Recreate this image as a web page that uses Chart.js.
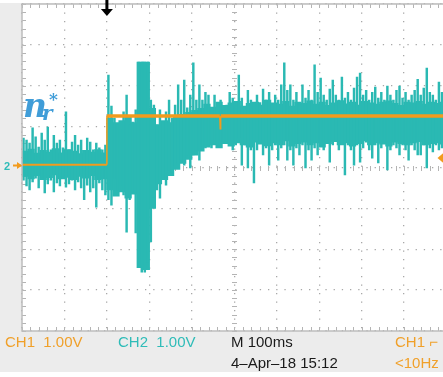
<!DOCTYPE html>
<html>
<head>
<meta charset="utf-8">
<script src="https://cdn.jsdelivr.net/npm/chart.js@4.4.1/dist/chart.umd.min.js"></script>
<style>
  body { margin: 0; width: 443px; height: 377px; overflow: hidden; position: relative; background: #fff; font-family: "Liberation Sans", Arial, sans-serif; }
  #panel { position: absolute; left: 0; top: 3px; width: 443px; height: 369px; background: #ececec; }
  #wrap { position: absolute; left: 0; top: 0; }
  .t { position: absolute; font-size: 15px; line-height: 1; white-space: pre; }
  .or { color: #f0a02a; }
  .cy { color: #2fbcb8; }
  .bk { color: #1a1a1a; }
  .lab { position: absolute; color: #409dd8; font-family: "DejaVu Serif", serif; font-weight: bold; font-style: italic; line-height: 1; }
</style>
</head>
<body>
<div id="panel"></div>
<div id="wrap"><canvas id="scope" width="450" height="336"></canvas></div>

<div class="lab" style="left:23px;top:89px;font-size:33px">n</div>
<div class="lab" style="left:42px;top:103px;font-size:20px">r</div>
<div class="lab" style="left:49px;top:91px;font-size:17px">*</div>

<div class="t cy" style="left:4px;top:161px;font-size:11px;font-weight:bold">2</div>

<div class="t or" style="left:5px;top:334px">CH1  1.00V</div>
<div class="t cy" style="left:118px;top:334px">CH2  1.00V</div>
<div class="t bk" style="left:231px;top:334px">M 100ms</div>
<div class="t or" style="left:395px;top:334px">CH1 ⌐</div>
<div class="t bk" style="left:231px;top:355px">4–Apr–18 15:12</div>
<div class="t or" style="left:395px;top:355px">&lt;10Hz</div>

<script>
// scope settings (divisions)
const xDivs = 10, yDivs = 8;
const triggerPos = 2;      // trigger point, div
const triggerLevel = 0.23; // CH1 trigger level, V
const groundLevel = 0;     // CH2 ground marker, V

// CH2 (cyan) spikes per column, volts : upper and lower
const ch2Hi = [
  0.72,0.67,0.60,0.97,0.75,0.50,0.84,0.67,0.99,0.43,0.79,0.60,0.67,0.48,1.36,0.43,0.62,0.79,0.55,0.67,0.38,0.72,0.62,0.43,0.60,0.48,0.43,0.55,
  2.26,1.50,1.21,1.04,0.92,1.36,1.77,1.04,1.11,1.41,2.58,2.58,2.58,2.58,
  1.65,1.53,1.04,1.41,1.11,1.36,1.65,1.21,1.53,2.02,1.65,2.14,1.46,1.77,2.56,1.65,2.02,1.65,
  1.84,1.77,1.46,1.77,1.36,1.65,1.41,1.53,1.84,1.70,1.46,2.26,1.70,1.41,1.89,1.65,1.46,1.77,1.59,1.92,
  1.65,1.84,1.53,1.77,1.65,2.02,2.56,1.89,2.02,1.65,1.84,1.53,2.02,1.70,1.89,1.65,2.51,1.84,2.19,1.77,
  1.65,1.92,2.14,1.77,1.65,2.21,1.70,1.84,1.65,1.94,2.21,2.31,1.77,1.89,1.65,1.84,1.97,1.70,1.84,1.65,
  1.99,1.77,1.65,1.89,1.99,1.70,1.84,1.65,1.77,1.89,2.16,1.77,1.94,2.43,1.84,1.77,1.65,2.09,1.84,1.77
];
const ch2Lo = [
  -0.31,-0.45,-0.55,-0.35,-0.26,-0.50,-0.26,-0.62,-0.40,-0.31,-0.60,-0.38,-0.45,-0.26,-0.48,-0.40,-0.31,-0.55,-0.35,-0.50,-0.79,-0.43,-0.60,-0.50,-0.97,-0.38,-0.55,-0.67,
  -0.79,-0.92,-0.26,-0.55,-0.43,-0.67,-1.58,-0.79,-0.60,-1.60,-2.02,-2.56,-2.56,-2.31,
  -1.82,-0.72,-0.55,-0.75,-0.26,-0.43,-0.06,-0.11,0.06,0.13,0.18,0.06,0.31,-0.01,0.31,0.43,0.18,0.43,
  0.48,0.55,0.48,0.62,0.55,0.67,0.62,0.60,0.67,0.43,0.55,0.72,0.06,0.55,-0.01,0.43,-0.38,0.43,0.67,0.31,
  0.48,0.06,0.43,0.55,0.18,0.48,0.55,0.18,0.43,0.06,0.48,0.31,0.55,-0.01,0.43,0.18,0.48,0.31,0.55,0.43,
  0.62,0.13,0.55,0.67,0.43,0.62,-0.18,0.55,0.43,0.06,0.55,0.13,0.48,0.62,0.43,0.23,0.55,0.11,0.48,0.62,
  -0.06,0.43,0.55,0.48,0.31,0.55,0.43,0.18,0.55,0.43,0.31,0.31,0.55,-0.01,0.48,0.38,0.55,0.43,0.48,0.55
];

// CH2 solid core band, coarser columns, volts
const coreHi = [
  0.40,0.45,0.35,0.42,0.38,0.46,0.36,0.44,0.40,0.34,0.42,0.38,0.44,0.36,
  1.20,1.10,1.15,1.25,1.10,
  2.58,2.58,
  1.45,
  1.05,1.15,1.10,1.25,1.30,1.35,1.40,1.45,
  1.55,1.48,1.60,1.52,1.58,1.62,1.50,1.57,1.60,1.53,1.65,1.58,1.55,1.62,1.50,1.60,1.57,1.63,1.55,1.60,
  1.52,1.58,1.64,1.56,1.60,1.53,1.62,1.58,1.55,1.60,1.63,1.57,1.52,1.60,1.58,1.62,1.55,1.60,1.57,1.60
];
const coreLo = [
  -0.22,-0.28,-0.20,-0.30,-0.25,-0.18,-0.28,-0.24,-0.30,-0.22,-0.26,-0.20,-0.30,-0.28,
  -0.55,-0.70,-0.60,-0.75,-0.65,
  -2.45,-2.50,
  -1.00,
  -0.40,-0.30,-0.20,-0.05,0.10,0.20,0.30,0.40,
  0.50,0.55,0.48,0.58,0.52,0.60,0.55,0.50,0.62,0.57,0.53,0.60,0.55,0.65,0.52,0.58,0.62,0.55,0.60,0.50,
  0.58,0.63,0.55,0.60,0.52,0.58,0.65,0.55,0.60,0.57,0.52,0.62,0.58,0.55,0.60,0.63,0.55,0.58,0.60,0.57
];

// CH1 (orange) step, time in div, volts
const ch1T = [0, 2, 2, 4.66, 4.67, 4.68, 10];
const ch1V = [0.07, 0.07, 1.26, 1.26, 0.95, 1.26, 1.26];

const orange = '#f29b1d';
const cyan = '#2ab9b3';

const spikeW = xDivs / ch2Hi.length;
const coreW = xDivs / coreHi.length;
const ch2Data = ch2Hi.map((h, i) => ({ x: (i + 0.5) * spikeW, y: [ch2Lo[i], h] }));
const coreData = coreHi.map((h, i) => ({ x: (i + 0.5) * coreW, y: [coreLo[i], h] }));
const ch1Data = ch1T.map((t, i) => ({ x: t, y: ch1V[i] }));

const scopeDeco = {
  id: 'scopeDeco',
  beforeDraw(chart) {
    const a = chart.chartArea, c = chart.ctx;
    c.save();
    c.fillStyle = '#fff';
    c.fillRect(a.left, a.top, a.right - a.left, a.bottom - a.top);
    c.restore();
  },
  beforeDatasetsDraw(chart) {
    const a = chart.chartArea, c = chart.ctx;
    const xs = chart.scales.x, ys = chart.scales.y;
    c.save();
    c.strokeStyle = '#b4b4b4';
    c.lineWidth = 1;
    c.beginPath();
    const cx = xs.getPixelForValue(xDivs / 2), cy = ys.getPixelForValue(0);
    for (let v = 0; v <= xDivs + 0.001; v += 0.2) {
      const px = Math.round(xs.getPixelForValue(v)) + 0.5;
      c.moveTo(px, a.top); c.lineTo(px, a.top + 4);
      c.moveTo(px, a.bottom); c.lineTo(px, a.bottom - 4);
      c.moveTo(px, Math.round(cy) - 2); c.lineTo(px, Math.round(cy) + 3);
    }
    for (let v = -yDivs / 2; v <= yDivs / 2 + 0.001; v += 0.2) {
      const py = Math.round(ys.getPixelForValue(v)) + 0.5;
      c.moveTo(a.left, py); c.lineTo(a.left + 4, py);
      c.moveTo(Math.round(cx) - 2, py); c.lineTo(Math.round(cx) + 3, py);
    }
    c.stroke();
    c.restore();
  },
  afterDraw(chart) {
    const a = chart.chartArea, c = chart.ctx;
    const xs = chart.scales.x, ys = chart.scales.y;
    c.save();
    c.strokeStyle = '#bdbdbd';
    c.lineWidth = 1.5;
    c.strokeRect(a.left, a.top, a.right - a.left + 10, a.bottom - a.top);
    // trigger position arrow
    const tx = xs.getPixelForValue(triggerPos);
    c.fillStyle = '#000';
    c.fillRect(tx - 1.5, 0, 3, 10);
    c.beginPath();
    c.moveTo(tx - 6, 9); c.lineTo(tx + 6, 9); c.lineTo(tx, 16); c.closePath();
    c.fill();
    // trigger level marker
    const ty = ys.getPixelForValue(triggerLevel);
    c.fillStyle = orange;
    c.beginPath();
    c.moveTo(a.right - 9, ty); c.lineTo(a.right - 2, ty - 6); c.lineTo(a.right - 2, ty + 6); c.closePath();
    c.fill();
    // ground marker arrow
    const gy = ys.getPixelForValue(groundLevel) - 2;
    c.strokeStyle = orange;
    c.lineWidth = 2;
    c.beginPath(); c.moveTo(13, gy); c.lineTo(21, gy); c.stroke();
    c.beginPath();
    c.moveTo(22, gy); c.lineTo(17, gy - 3.5); c.lineTo(17, gy + 3.5); c.closePath();
    c.fill();
    c.restore();
  }
};

new Chart(document.getElementById('scope'), {
  data: {
    datasets: [
      {
        type: 'line',
        data: ch1Data,
        borderColor: orange,
        borderWidth: 3,
        pointRadius: 0,
        tension: 0,
        segment: {
          borderWidth: ctx => {
            const x0 = ctx.p0.parsed.x, x1 = ctx.p1.parsed.x;
            if (x0 < triggerPos) return 2;
            if (x1 - x0 < 0.05) return 1.5;
            return 3.5;
          }
        }
      },
      {
        type: 'bar',
        data: ch2Data,
        backgroundColor: cyan,
        borderWidth: 0,
        grouped: false,
        barThickness: 1.8
      },
      {
        type: 'bar',
        data: coreData,
        backgroundColor: cyan,
        borderWidth: 0,
        grouped: false,
        barThickness: 6.6
      }
    ]
  },
  options: {
    responsive: false,
    animation: false,
    layout: { padding: { left: 22, top: 4, right: 3.5, bottom: 5 } },
    plugins: { legend: { display: false }, tooltip: { enabled: false } },
    scales: {
      x: {
        type: 'linear', min: 0, max: xDivs, offset: false,
        ticks: { display: false, stepSize: 1 },
        grid: { color: '#a8a8a8', lineWidth: 1.3, drawTicks: false, offset: false },
        border: { display: false, dash: [1.3, 7.2] }
      },
      y: {
        min: -yDivs / 2, max: yDivs / 2,
        ticks: { display: false, stepSize: 1 },
        grid: { color: '#a8a8a8', lineWidth: 1.3, drawTicks: false },
        border: { display: false, dash: [1.3, 6.9] }
      }
    }
  },
  plugins: [scopeDeco]
});
</script>
</body>
</html>
